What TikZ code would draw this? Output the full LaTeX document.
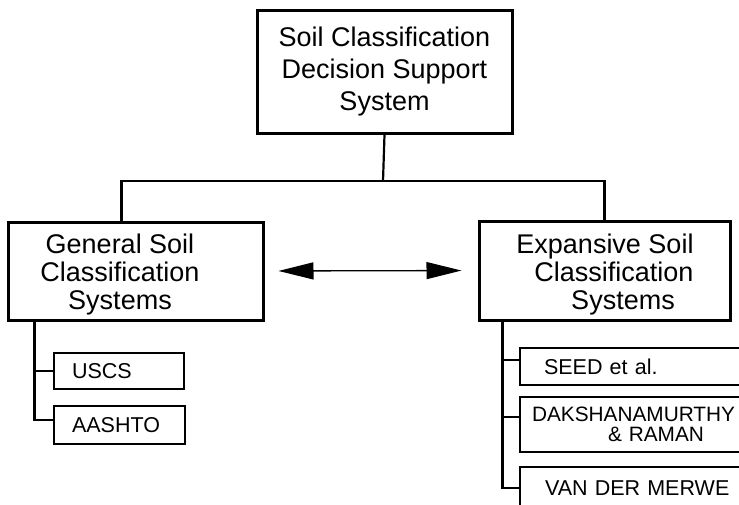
\documentclass[tikz,border=0pt]{standalone}
\usepackage{fontspec}
\setmainfont{Liberation Sans}
\usetikzlibrary{arrows.meta}

\tikzset{
  bigbox/.style={draw, line width=3pt, inner sep=0pt},
  smallbox/.style={draw, line width=2.2pt, inner ysep=0pt, align=left,
                   font=\fontsize{21.5}{20}\selectfont},
  bigtext/.style={align=center, inner sep=0pt, font=\fontsize{27}{28}\selectfont},
  link/.style={line width=2.2pt},
}

\begin{document}
\begin{tikzpicture}[x=1pt, y=-1pt]
  \useasboundingbox (0,0) rectangle (739,504);
  \fill[white] (0,0) rectangle (739,504);
  \begin{scope}
  \clip (0,0) rectangle (739,504);

  % root of the hierarchy
  \node[bigbox, minimum width=255pt, minimum height=123pt, align=center,
        font=\fontsize{27}{32}\selectfont] (root) at (384.5,71.5)
        {Soil Classification\\Decision Support\\System};

  % the two families of classification systems
  \node[bigbox, minimum width=255pt, minimum height=98pt] (gen) at (135.5,271) {};
  \node[bigtext] (gentxt) at (120,275) {General Soil\\Classification\\Systems};

  \node[bigbox, minimum width=251pt, minimum height=99pt] (exp) at (604.5,270.5) {};
  \node[bigtext] (exptxt) at (614,275)
        {Expansive Soil\hspace*{18pt}\\Classification\\\hspace*{18pt}Systems};

  % general systems
  \node[smallbox, minimum width=130pt, minimum height=36pt, inner xsep=18pt,
        text width=94pt] (uscs) at (119,371) {USCS};
  \node[smallbox, minimum width=131pt, minimum height=38pt, inner xsep=18pt,
        text width=95pt] (aashto) at (119.5,425) {AASHTO};

  % expansive soil systems (running off the right edge)
  \node[smallbox, minimum width=250pt, minimum height=37pt, inner xsep=24pt,
        text width=202pt] (seed) at (645,366.5) {SEED et al.};
  \node[smallbox, minimum width=250pt, minimum height=55pt, inner xsep=12pt,
        text width=226pt, font=\fontsize{20.8}{20}\selectfont] (dak) at (645,424.5)
        {DAKSHANAMURTHY\\\hspace*{76pt}\& RAMAN};
  \node[smallbox, minimum width=250pt, minimum height=42pt, inner xsep=25pt,
        text width=200pt] (van) at (645,488) {VAN DER MERWE};

  % tree connectors
  \coordinate (bus) at (383,181);
  \draw[link] (root.south) -- (bus);
  \draw[link] ([xshift=115pt]gen.north west) |- (bus)
              -| ([xshift=127pt]exp.north west);

  \draw[link] ([xshift=28pt]gen.south west) |- ([yshift=5pt]aashto.west);
  \draw[link] (uscs.west) -- (uscs.west -| 36,0);

  \draw[link] ([xshift=25pt]exp.south west) |- (van.west);
  \draw[link] ([yshift=6.5pt]seed.west) -- ++(-16,0);
  \draw[link] ([yshift=7.5pt]dak.west) -- ++(-16,0);

  % two-way link between the families
  \draw[line width=1.3pt, {Triangle[length=35pt,width=17pt]}-{Triangle[length=35pt,width=17pt]},
        shorten <=14pt, shorten >=16pt] (gen.east) -- (exp.west);
  \end{scope}
\end{tikzpicture}
\end{document}
